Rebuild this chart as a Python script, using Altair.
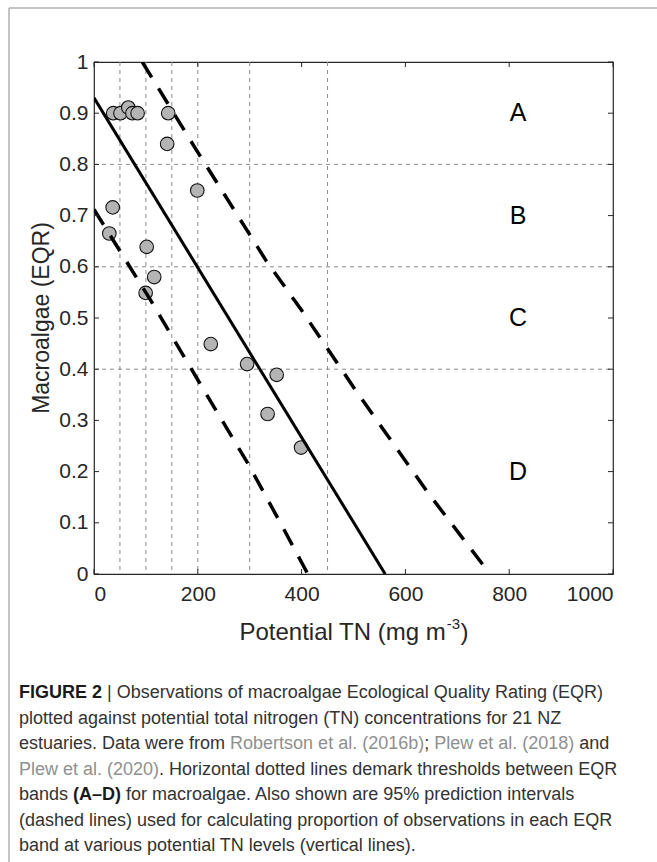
import altair as alt
import pandas as pd

# ---------------- data ----------------
tn = [37, 51, 66, 74, 84, 143, 141, 199, 36, 29.5, 101.5, 116, 99.5, 225, 295, 352, 334.5, 399]
eqr = [0.90, 0.90, 0.911, 0.90, 0.90, 0.90, 0.84, 0.749, 0.716, 0.665, 0.639, 0.58, 0.549,
       0.449, 0.41, 0.389, 0.3125, 0.247]

fit_x = [0, 561]
fit_y = [0.93, 0.0]
upper_x = [93, 198, 331, 400, 506, 644, 763]
upper_y = [1.0, 0.827, 0.613, 0.515, 0.356, 0.158, 0.0]
lower_x = [0, 109, 203, 297, 358, 412]
lower_y = [0.712, 0.535, 0.374, 0.215, 0.102, 0.0]

tn_levels = [50, 100, 150, 200, 300, 450]        # vertical dotted lines
band_thresholds = [0.4, 0.6, 0.8]                # horizontal dotted lines
band_labels = ["A", "B", "C", "D"]
band_label_y = [0.9, 0.7, 0.5, 0.2]
band_label_x = [817, 817, 817, 817]

x_ticks = [0, 200, 400, 600, 800, 1000]
y_ticks = [0, 0.1, 0.2, 0.3, 0.4, 0.5, 0.6, 0.7, 0.8, 0.9, 1.0]

caption_lines = [
    [("FIGURE 2", "b"), (" | ", "n"), ("Observations of macroalgae Ecological Quality Rating (EQR)", "n")],
    [("plotted against potential total nitrogen (TN) concentrations for 21 NZ", "n")],
    [("estuaries. Data were from ", "n"), ("Robertson et al. (2016b)", "l"), ("; ", "n"),
     ("Plew et al. (2018)", "l"), (" and", "n")],
    [("Plew et al. (2020)", "l"), (". Horizontal dotted lines demark thresholds between EQR", "n")],
    [("bands ", "n"), ("(A\u2013D)", "b"), (" for macroalgae. Also shown are 95% prediction intervals", "n")],
    [("(dashed lines) used for calculating proportion of observations in each EQR", "n")],
    [("band at various potential TN levels (vertical lines).", "n")],
]

# ---------------- layout ----------------
W, H = 519, 512
PAD_L, PAD_T = 94, 62
FONT = "Liberation Sans"
AX = "#262626"

# Arial / Liberation Sans advance widths (per 1000 em)
REG = {**{c: 556 for c in "abdeghnopqu0123456789"}, "c": 500, "f": 278, "i": 222, "j": 222, "k": 500,
       "l": 222, "m": 833, "r": 333, "s": 500, "t": 278, "v": 500, "w": 722, "x": 500, "y": 500,
       "z": 500, "A": 667, "B": 667, "C": 722, "D": 722, "E": 667, "F": 611, "G": 778, "H": 722,
       "I": 278, "J": 500, "K": 667, "L": 556, "M": 833, "N": 722, "O": 778, "P": 667, "Q": 778,
       "R": 722, "S": 667, "T": 611, "U": 722, "V": 667, "W": 944, "X": 667, "Y": 667, "Z": 611,
       " ": 278, ".": 278, ",": 278, ";": 278, ":": 278, "(": 333, ")": 333, "|": 260, "%": 889,
       "\u2013": 556, "-": 333}
BOLD = {**REG, "A": 722, "B": 722, "C": 722, "D": 722, "E": 667, "F": 611, "G": 778, "I": 278,
        "R": 722, "U": 722, "(": 333, ")": 333}


def text_width(s, size, bold=False):
    tbl = BOLD if bold else REG
    return sum(tbl.get(ch, 556) for ch in s) * size / 1000.0


one = alt.Data(values=[{"k": 0}])


def label(text, px, py, size, color="#000000", weight="normal", angle=0, align="left",
          baseline="alphabetic"):
    kw = dict(text=text, font=FONT, fontSize=size, fontWeight=weight, color=color,
              align=align, baseline=baseline)
    if angle:
        kw["angle"] = angle
    return alt.Chart(one).mark_text(**kw).encode(
        x=alt.value(px - PAD_L), y=alt.value(py - PAD_T))


xscale = alt.Scale(domain=[0, 1000], nice=False, zero=False)
yscale = alt.Scale(domain=[0, 1], nice=False, zero=False)
xaxis = alt.Axis(values=x_ticks, format="d", ticks=False, tickSize=0, domain=False, grid=False,
                 labelFont=FONT, labelFontSize=21, labelColor=AX, labelPadding=9, title=None)
yaxis = alt.Axis(values=y_ticks, format="~g", ticks=False, tickSize=0, domain=False, grid=False,
                 labelFont=FONT, labelFontSize=21, labelColor=AX, labelPadding=6, title=None)


def X(f):
    return alt.X(f, scale=xscale, axis=xaxis)


def Y(f):
    return alt.Y(f, scale=yscale, axis=yaxis)


pts_df = pd.DataFrame({"tn": tn, "eqr": eqr})

vgrid = alt.Chart(pd.DataFrame({"v": tn_levels})).mark_rule(
    color="#8c8c8c", strokeWidth=1, strokeDash=[4, 4]).encode(
    x=X("v:Q"), y=alt.value(0), y2=alt.value(H))
hgrid = alt.Chart(pd.DataFrame({"v": band_thresholds})).mark_rule(
    color="#8c8c8c", strokeWidth=1, strokeDash=[4, 4]).encode(
    y=Y("v:Q"), x=alt.value(0), x2=alt.value(W))

points = alt.Chart(pts_df).mark_point(
    shape="circle", filled=True, size=185, fill="#b4b4b4", stroke="#111111",
    strokeWidth=1.1, opacity=1).encode(x=X("tn:Q"), y=Y("eqr:Q"))

fit = alt.Chart(pd.DataFrame({"x": fit_x, "y": fit_y})).mark_line(
    color="#000000", strokeWidth=3, clip=True).encode(x=X("x:Q"), y=Y("y:Q"))
upper = alt.Chart(pd.DataFrame({"x": upper_x, "y": upper_y})).mark_line(
    color="#000000", strokeWidth=3.5, strokeDash=[18, 13], clip=True).encode(x=X("x:Q"), y=Y("y:Q"))
lower = alt.Chart(pd.DataFrame({"x": lower_x, "y": lower_y})).mark_line(
    color="#000000", strokeWidth=3.5, strokeDash=[18, 13], clip=True).encode(x=X("x:Q"), y=Y("y:Q"))

bands = alt.Chart(pd.DataFrame({"x": band_label_x, "y": band_label_y, "t": band_labels})).mark_text(
    font=FONT, fontSize=25, color="#000000", align="center", baseline="middle").encode(
    x=X("x:Q"), y=Y("y:Q"), text="t:N")

xt = pd.DataFrame({"v": x_ticks})
yt = pd.DataFrame({"v": y_ticks})
tick_bottom = alt.Chart(xt).mark_rule(color=AX, strokeWidth=1).encode(
    x=X("v:Q"), y=alt.value(H), y2=alt.value(H - 5))
tick_top = alt.Chart(xt).mark_rule(color=AX, strokeWidth=1).encode(
    x=X("v:Q"), y=alt.value(0), y2=alt.value(5))
tick_left = alt.Chart(yt).mark_rule(color=AX, strokeWidth=1).encode(
    y=Y("v:Q"), x=alt.value(0), x2=alt.value(5))
tick_right = alt.Chart(yt).mark_rule(color=AX, strokeWidth=1).encode(
    y=Y("v:Q"), x=alt.value(W), x2=alt.value(W - 5))

layers = [vgrid, hgrid, points, fit, upper, lower, bands,
          tick_bottom, tick_top, tick_left, tick_right]

# axis titles
layers.append(label("Macroalgae (EQR)", 49, PAD_T + H / 2, 23, color=AX, angle=270, align="center"))
TS = 24
xt_main = "Potential TN (mg m"
w_main = text_width(xt_main, TS)
w_sup = text_width("-3", 15)
w_close = text_width(")", TS)
x0 = PAD_L + W / 2 - (w_main + w_sup + w_close) / 2
layers.append(label(xt_main, x0, 640, TS, color=AX))
layers.append(label("-3", x0 + w_main + 0.5, 629, 15, color=AX))
layers.append(label(")", x0 + w_main + w_sup + 1, 640, TS, color=AX))

# caption
CAP_SIZE = 18
CAP_X = 19
CAP_Y0 = 698
CAP_DY = 25.5
styles = {"n": ("#333333", "normal", False), "b": ("#1a1a1a", "bold", True),
          "l": ("#8f8f8f", "normal", False)}
for i, line in enumerate(caption_lines):
    cx = CAP_X
    cy = CAP_Y0 + i * CAP_DY
    for seg, st in line:
        col, wt, isb = styles[st]
        lead = len(seg) - len(seg.lstrip(" "))
        body = seg.strip(" ")
        if body:
            layers.append(label(body, cx + text_width(" " * lead, CAP_SIZE, isb), cy, CAP_SIZE,
                                color=col, weight=wt))
        cx += text_width(seg, CAP_SIZE, isb)

# outer figure border (top and left)
border_top = alt.Chart(one).mark_rule(color="#b0b0b0", strokeWidth=1.5).encode(
    x=alt.value(9 - PAD_L), x2=alt.value(657 - PAD_L), y=alt.value(8 - PAD_T))
border_left = alt.Chart(one).mark_rule(color="#b0b0b0", strokeWidth=1.5).encode(
    x=alt.value(9 - PAD_L), y=alt.value(8 - PAD_T), y2=alt.value(862 - PAD_T))
layers += [border_top, border_left]

chart = alt.layer(*layers).properties(
    width=W, height=H,
    padding={"left": PAD_L, "top": PAD_T, "right": 657 - PAD_L - W, "bottom": 862 - PAD_T - H},
    autosize=alt.AutoSizeParams(type="none"),
    background="white",
).configure_view(stroke=AX, strokeWidth=1.2)

chart.save("out.html", embed_options={"renderer": "svg", "actions": False})
